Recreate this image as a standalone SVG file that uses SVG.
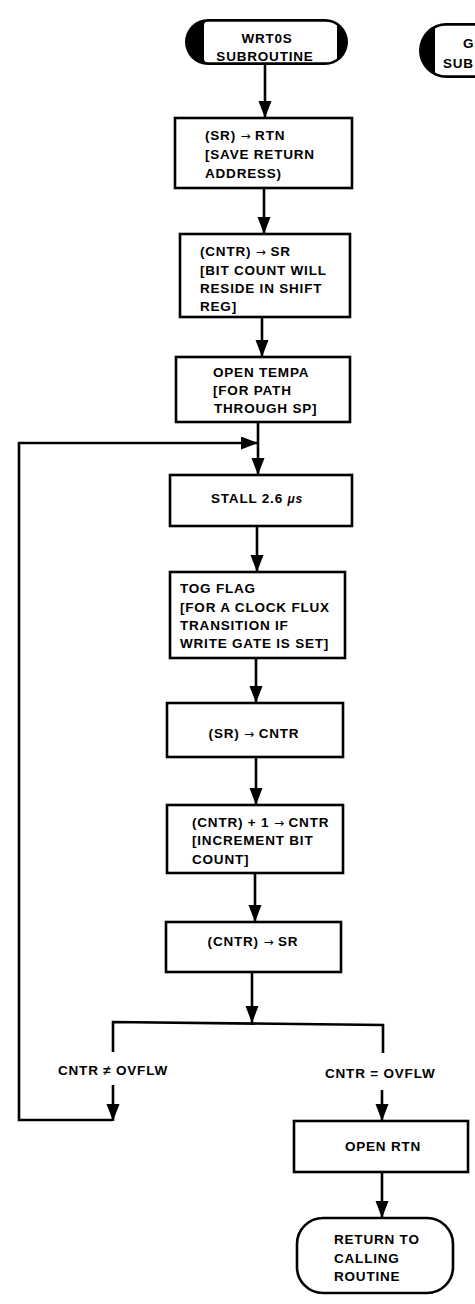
<svg xmlns="http://www.w3.org/2000/svg" width="475" height="1304" viewBox="0 0 475 1304">
<style>
  .box { fill: #fff; stroke: #000; stroke-width: 2.6; }
  .ln { fill: none; stroke: #000; stroke-width: 2.6; }
  text { font-family: "Liberation Sans", Arial, sans-serif; font-weight: bold; font-size: 13.5px; letter-spacing: 0.8px; fill: #000; }
  .c { text-anchor: middle; }
  .ar { font-family: "DejaVu Sans", sans-serif; font-weight: normal; font-size: 12px; letter-spacing: 0; }
  .mu { font-style: italic; font-size: 12px; }
</style>
<defs>
  <marker id="ah" markerUnits="userSpaceOnUse" markerWidth="18" markerHeight="14" refX="17" refY="6.5" orient="auto">
    <path d="M0,0 L17,6.5 L0,13 Z" fill="#000"/>
  </marker>
  <clipPath id="cp1"><rect x="187.5" y="21.5" width="158" height="41" rx="20.5"/></clipPath>
  <clipPath id="cp2"><rect x="421.5" y="25.5" width="120" height="50" rx="25"/></clipPath>
</defs>

<g id="connectors">
  <path class="ln" d="M265,65 L265,118" marker-end="url(#ah)"/>
  <path class="ln" d="M264,188 L264,234" marker-end="url(#ah)"/>
  <path class="ln" d="M262,317 L262,357" marker-end="url(#ah)"/>
  <path class="ln" d="M258,422 L258,475" marker-end="url(#ah)"/>
  <path class="ln" d="M257,526 L257,572" marker-end="url(#ah)"/>
  <path class="ln" d="M256,658 L256,703" marker-end="url(#ah)"/>
  <path class="ln" d="M256,757 L256,805" marker-end="url(#ah)"/>
  <path class="ln" d="M255,873 L255,922" marker-end="url(#ah)"/>
  <path class="ln" d="M252,972 L252,1023" marker-end="url(#ah)"/>
  <path class="ln" d="M113,1052 L113,1022 L383,1025 L383,1053"/>
  <path class="ln" d="M113,1085 L113,1121" marker-end="url(#ah)"/>
  <path class="ln" d="M113,1120 L19,1120 L19,443 L258,443" marker-end="url(#ah)"/>
  <path class="ln" d="M382,1090 L382,1121" marker-end="url(#ah)"/>
  <path class="ln" d="M382,1172 L382,1218" marker-end="url(#ah)"/>
</g>

<g id="start">
  <rect x="185" y="19" width="163" height="46" rx="23" fill="#000"/>
  <rect x="204" y="21.5" width="133" height="41" rx="4" fill="#fff" clip-path="url(#cp1)"/>
  <text class="c" x="267" y="43">WRT0S</text>
  <text class="c" x="265" y="61">SUBROUTINE</text>
</g>

<g id="other-start">
  <rect x="419" y="23" width="125" height="55" rx="27.5" fill="#000"/>
  <rect x="435" y="25.5" width="110" height="50" rx="4" fill="#fff" clip-path="url(#cp2)"/>
  <text x="463" y="48">G</text>
  <text x="443" y="68">SUB</text>
</g>

<g id="n1">
  <rect class="box" x="175" y="118" width="177" height="70"/>
  <text x="205" y="140">(SR) <tspan class="ar">→</tspan> RTN</text>
  <text x="205" y="159">[SAVE RETURN</text>
  <text x="205" y="178">ADDRESS)</text>
</g>

<g id="n2">
  <rect class="box" x="180" y="234" width="170" height="83"/>
  <text x="200" y="256">(CNTR) <tspan class="ar">→</tspan> SR</text>
  <text x="200" y="275">[BIT COUNT WILL</text>
  <text x="200" y="293">RESIDE IN SHIFT</text>
  <text x="200" y="311">REG]</text>
</g>

<g id="n3">
  <rect class="box" x="176" y="357" width="174" height="65"/>
  <text x="213" y="377">OPEN TEMPA</text>
  <text x="213" y="395">[FOR PATH</text>
  <text x="214" y="413">THROUGH SP]</text>
</g>

<g id="n4">
  <rect class="box" x="170" y="475" width="182" height="51"/>
  <text class="c" x="257" y="503">STALL 2.6 <tspan class="mu">μs</tspan></text>
</g>

<g id="n5">
  <rect class="box" x="170" y="572" width="175" height="86"/>
  <text x="180" y="593">TOG FLAG</text>
  <text x="180" y="612">[FOR A CLOCK FLUX</text>
  <text x="180" y="630">TRANSITION IF</text>
  <text x="180" y="648">WRITE GATE IS SET]</text>
</g>

<g id="n6">
  <rect class="box" x="167" y="703" width="176" height="54"/>
  <text class="c" x="254" y="738">(SR) <tspan class="ar">→</tspan> CNTR</text>
</g>

<g id="n7">
  <rect class="box" x="167" y="805" width="176" height="68"/>
  <text x="192" y="827">(CNTR) + 1 <tspan class="ar">→</tspan> CNTR</text>
  <text x="192" y="845">[INCREMENT BIT</text>
  <text x="192" y="864">COUNT]</text>
</g>

<g id="n8">
  <rect class="box" x="166" y="922" width="175" height="50"/>
  <text class="c" x="253" y="946">(CNTR) <tspan class="ar">→</tspan> SR</text>
</g>

<g id="labels">
  <text x="58" y="1075">CNTR ≠  OVFLW</text>
  <text x="325" y="1078">CNTR = OVFLW</text>
</g>

<g id="n9">
  <rect class="box" x="294" y="1121" width="174" height="51"/>
  <text class="c" x="383" y="1151">OPEN RTN</text>
</g>

<g id="end">
  <rect class="box" x="297" y="1218" width="156" height="75" rx="26"/>
  <text x="334" y="1244">RETURN TO</text>
  <text x="334" y="1263">CALLING</text>
  <text x="334" y="1281">ROUTINE</text>
</g>
</svg>
